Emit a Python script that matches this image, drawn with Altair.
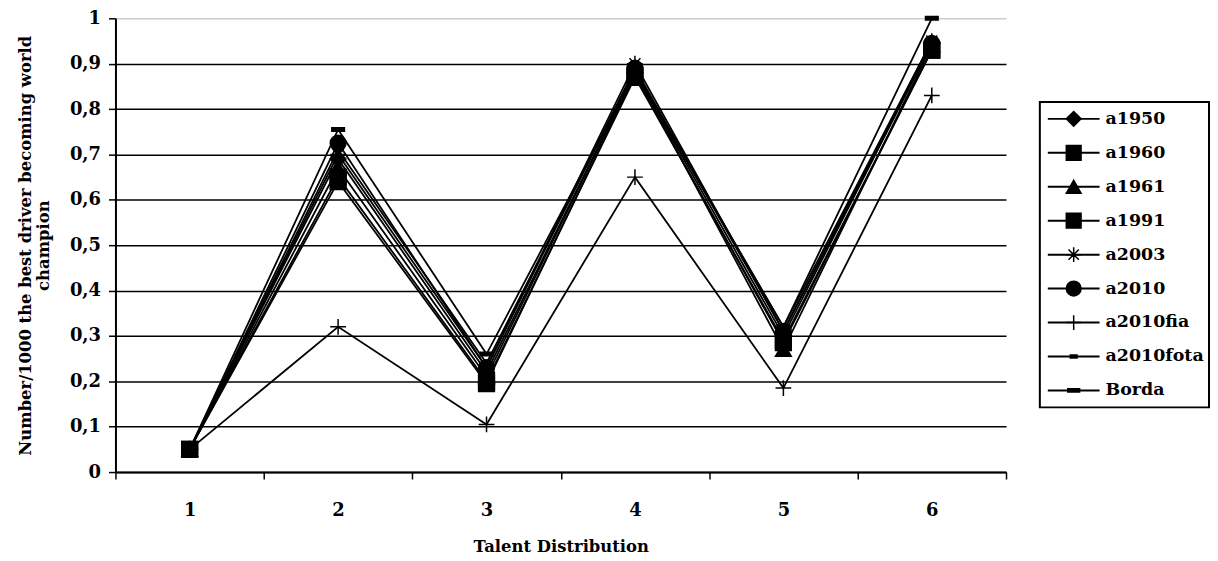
import altair as alt
import pandas as pd

distributions = ["1", "2", "3", "4", "5", "6"]
series_names = ["a1950", "a1960", "a1961", "a1991", "a2003", "a2010",
                "a2010fia", "a2010fota", "Borda"]
a1950 = [0.05, 0.69, 0.22, 0.88, 0.30, 0.945]
a1960 = [0.05, 0.65, 0.20, 0.87, 0.29, 0.93]
a1961 = [0.05, 0.67, 0.21, 0.88, 0.27, 0.94]
a1991 = [0.05, 0.64, 0.195, 0.875, 0.285, 0.93]
a2003 = [0.05, 0.70, 0.23, 0.90, 0.31, 0.95]
a2010 = [0.05, 0.725, 0.23, 0.89, 0.31, 0.945]
a2010fia = [0.05, 0.32, 0.105, 0.65, 0.185, 0.83]
a2010fota = [0.05, 0.71, 0.24, 0.885, 0.32, 0.95]
borda = [0.05, 0.755, 0.26, 0.88, 0.32, 1.0]

values = [a1950, a1960, a1961, a1991, a2003, a2010, a2010fia, a2010fota, borda]

rows = []
for name, vals in zip(series_names, values):
    for d, v in zip(distributions, vals):
        rows.append({"series": name, "dist": d, "value": v})
df = pd.DataFrame(rows)

shapes = [
    "diamond",
    "square",
    "triangle-up",
    "square",
    "M-1,0L1,0M0,-1L0,1M-0.7,-0.7L0.7,0.7M-0.7,0.7L0.7,-0.7",
    "circle",
    "M-1,0L1,0M0,-1L0,1",
    "M-0.45,-0.2L0.45,-0.2L0.45,0.2L-0.45,0.2Z",
    "M-0.8,-0.22L0.8,-0.22L0.8,0.22L-0.8,0.22Z",
]
shape_scale = alt.Scale(domain=series_names, range=shapes)

FONT = "DejaVu Serif"

x_enc = alt.X(
    "dist:O",
    bandPosition=0.5,
    scale=alt.Scale(type="band", paddingInner=0, paddingOuter=0),
    axis=alt.Axis(
        title="Talent Distribution",
        tickBand="extent",
        labelAngle=0,
        labelPadding=23,
        tickSize=7,
        tickColor="black",
        tickWidth=1.5,
        domainColor="black",
        domainWidth=2,
        labelFont=FONT,
        labelFontSize=18,
        labelFontWeight="bold",
        labelColor="black",
        titleFont=FONT,
        titleFontSize=16.5,
        titleFontWeight="bold",
        titleColor="black",
        titlePadding=19,
        grid=False,
    ),
)

y_enc = alt.Y(
    "value:Q",
    scale=alt.Scale(domain=[0, 1], nice=False),
    axis=alt.Axis(
        title=["Number/1000 the best driver becoming world", "champion"],
        values=[0, 0.1, 0.2, 0.3, 0.4, 0.5, 0.6, 0.7, 0.8, 0.9, 1.0],
        labelExpr="replace(format(datum.value, '.1~f'), '.', ',')",
        tickSize=7,
        tickColor="black",
        tickWidth=1.5,
        domainColor="black",
        domainWidth=2,
        labelFont=FONT,
        labelFontSize=18,
        labelFontWeight="bold",
        labelColor="black",
        labelPadding=8,
        titleFont=FONT,
        titleFontSize=16.5,
        titleFontWeight="bold",
        titleColor="black",
        titlePadding=18,
        titleLineHeight=18,
        grid=True,
        gridColor={"condition": {"test": "datum.value > 0.95", "value": "#cccccc"}, "value": "black"},
        gridWidth=1.5,
        gridOpacity=1,
    ),
)

base = alt.Chart(df)

lines = base.mark_line(color="black", strokeWidth=1.8).encode(
    x=x_enc, y=y_enc, detail="series:N", order=alt.Order("dist:O")
)
points = base.mark_point(fill="black", stroke="black", strokeWidth=1.5, opacity=1, size=250, fillOpacity=1).encode(
    x=x_enc,
    y=y_enc,
    shape=alt.Shape("series:N", scale=shape_scale, legend=None),
)

main = alt.layer(lines, points).properties(
    width=895, height=456, view=alt.ViewBackground(stroke=None)
)

leg_df = pd.DataFrame({"series": series_names})
leg_y = alt.Y("series:N", sort=series_names, axis=None,
              scale=alt.Scale(type="point", padding=0.5))
leg_base = alt.Chart(leg_df)
leg_rule = leg_base.mark_rule(color="black", strokeWidth=2).encode(
    y=leg_y, x=alt.value(8), x2=alt.value(60)
)
leg_pts = leg_base.mark_point(fill="black", stroke="black", strokeWidth=1.5, opacity=1, size=220, fillOpacity=1).encode(
    y=leg_y, x=alt.value(34),
    shape=alt.Shape("series:N", scale=shape_scale, legend=None),
)
leg_txt = leg_base.mark_text(align="left", baseline="middle", font=FONT, fontSize=17.5,
                             fontWeight="bold", color="black").encode(
    y=leg_y, x=alt.value(66), text="series:N"
)
legend = alt.layer(leg_rule, leg_pts, leg_txt).properties(
    width=170, height=307, view=alt.ViewBackground(stroke="black", strokeWidth=2)
)

spacer = alt.Chart(pd.DataFrame({"a": [0]})).mark_point(opacity=0).encode(
    x=alt.value(0), y=alt.value(0)
).properties(width=170, height=63, view=alt.ViewBackground(stroke=None))

right = alt.vconcat(spacer, legend, spacing=20)

chart = alt.hconcat(main, right, spacing=30).properties(
    padding={"left": 9, "top": 0, "right": 0, "bottom": 0}
).configure(
    font=FONT, background="white"
)

chart.save("out.html", embed_options={"renderer": "svg", "actions": False})
